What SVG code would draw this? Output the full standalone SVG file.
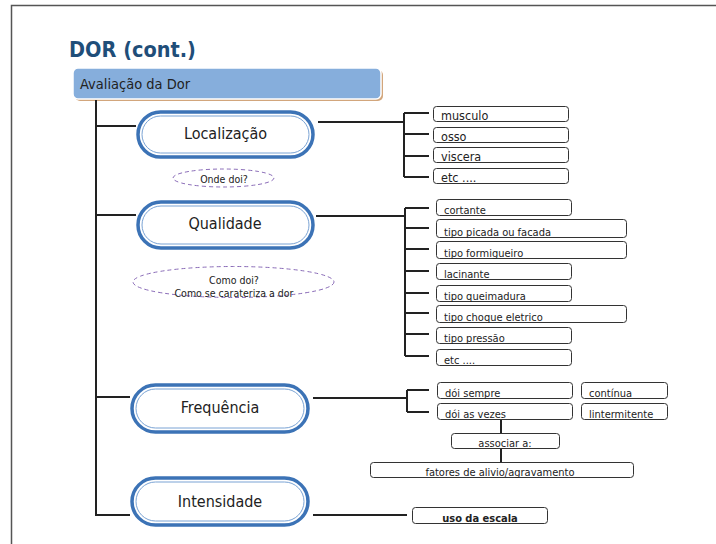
<svg xmlns="http://www.w3.org/2000/svg" width="716" height="544" viewBox="0 0 716 544">
<style>
text{font-family:'DejaVu Sans Condensed','DejaVu Sans',sans-serif;font-stretch:condensed;fill:#222}
.pill{fill:#fff;stroke:#3c73b6;stroke-width:3.5}
.pilli{fill:none;stroke:#7aa3d4;stroke-width:1}
.pt{font-size:16px;text-anchor:middle}
.bx{fill:#fff;stroke:#333;stroke-width:1}
.bt{font-size:11px}
.bl{font-size:12.5px}
.dash{fill:#fff;stroke:#8a6cb8;stroke-width:1;stroke-dasharray:4 3}
.dt{font-size:10.5px;text-anchor:middle}
.ln{fill:none;stroke:#222;stroke-width:2}
</style>
<rect width="716" height="544" fill="#fff"/>
<path d="M11.5 544V5.5H716" fill="none" stroke="#555" stroke-width="1.5"/>
<text x="69" y="57" style="font-size:21.5px;font-weight:bold;fill:#1f4e79">DOR (cont.)</text>
<g id="avaliacao">
<rect x="75" y="70" width="308" height="31" rx="5" fill="#d2a67c"/>
<rect x="73" y="68" width="308" height="31" rx="5" fill="#86aedc" stroke="#fff" stroke-width="1.5"/>
<text x="80" y="89" style="font-size:14.5px">Avaliação da Dor</text>
</g>
<g id="connectors" class="ln">
<path d="M96 100V515H130M96 126H136M96 215H136M96 397H130"/>
<path d="M318 122H404M404 113V177M404 113H429M404 134H429M404 156H429M404 177H429"/>
<path d="M316 216H405M405 208V356M405 208H429M405 228H429M405 249H429M405 271H429M405 293H429M405 313H429M405 334H429M405 356H429"/>
<path d="M313 398H407M407 390V412M407 390H429M407 412H429"/>
<path d="M501 419V462"/>
<path d="M313 515H407"/>
</g>
<g id="localizacao">
<rect class="pill" x="138" y="112" width="175" height="45" rx="22.5"/>
<rect class="pilli" x="142" y="116" width="167" height="37" rx="18.5"/>
<text class="pt" x="225.5" y="139">Localização</text>
</g>
<g id="onde-doi">
<ellipse class="dash" cx="223.5" cy="178" rx="50.5" ry="9"/>
<text class="dt" x="224" y="183">Onde doi?</text>
</g>
<g id="qualidade">
<rect class="pill" x="138" y="202" width="175" height="46" rx="23"/>
<rect class="pilli" x="142" y="206" width="167" height="38" rx="19"/>
<text class="pt" x="225" y="229">Qualidade</text>
</g>
<g id="como-doi">
<ellipse class="dash" cx="233.5" cy="282" rx="100.5" ry="15.5"/>
<text class="dt" x="234" y="284">Como doi?</text>
<text class="dt" x="234" y="297">Como se carateriza a dor</text>
</g>
<g id="frequencia">
<rect class="pill" x="132" y="385" width="176" height="47" rx="23.5"/>
<rect class="pilli" x="136" y="389" width="168" height="39" rx="19.5"/>
<text class="pt" x="220" y="413">Frequência</text>
</g>
<g id="intensidade">
<rect class="pill" x="132" y="478" width="176" height="47" rx="23.5"/>
<rect class="pilli" x="136" y="482" width="168" height="39" rx="19.5"/>
<text class="pt" x="220" y="507">Intensidade</text>
</g>
<g id="loc-musculo"><rect class="bx" x="433.5" y="106.5" width="135" height="15" rx="3"/><text class="bl" x="441" y="120">musculo</text></g>
<g id="loc-osso"><rect class="bx" x="433.5" y="127.5" width="135" height="15" rx="3"/><text class="bl" x="441" y="141">osso</text></g>
<g id="loc-viscera"><rect class="bx" x="433.5" y="147.5" width="135" height="15" rx="3"/><text class="bl" x="441" y="161">viscera</text></g>
<g id="loc-etc"><rect class="bx" x="433.5" y="168.5" width="135" height="15" rx="3"/><text class="bl" x="441" y="182">etc ....</text></g>
<g id="q-cortante"><rect class="bx" x="436.5" y="199.5" width="135" height="16" rx="3"/><text class="bt" x="444" y="214">cortante</text></g>
<g id="q-picada"><rect class="bx" x="436.5" y="219.5" width="190" height="18" rx="3"/><text class="bt" x="444" y="236">tipo picada ou facada</text></g>
<g id="q-formigueiro"><rect class="bx" x="436.5" y="241.5" width="190" height="17" rx="3"/><text class="bt" x="444" y="257">tipo formigueiro</text></g>
<g id="q-lacinante"><rect class="bx" x="436.5" y="263.5" width="135" height="16" rx="3"/><text class="bt" x="444" y="278">lacinante</text></g>
<g id="q-queimadura"><rect class="bx" x="436.5" y="285.5" width="135" height="16" rx="3"/><text class="bt" x="444" y="300">tipo queimadura</text></g>
<g id="q-choque"><rect class="bx" x="436.5" y="305.5" width="190" height="17" rx="3"/><text class="bt" x="444" y="321">tipo choque eletrico</text></g>
<g id="q-pressao"><rect class="bx" x="436.5" y="327.5" width="135" height="16" rx="3"/><text class="bt" x="444" y="342">tipo pressão</text></g>
<g id="q-etc"><rect class="bx" x="436.5" y="349.5" width="135" height="16" rx="3"/><text class="bt" x="444" y="364">etc ....</text></g>
<g id="f-sempre"><rect class="bx" x="437.5" y="382.5" width="135" height="16" rx="3"/><text class="bt" x="445" y="397">dói sempre</text></g>
<g id="f-vezes"><rect class="bx" x="437.5" y="403.5" width="135" height="16" rx="3"/><text class="bt" x="445" y="418">dói as vezes</text></g>
<g id="f-continua"><rect class="bx" x="581.5" y="382.5" width="86" height="16" rx="3"/><text class="bt" x="589" y="397">contínua</text></g>
<g id="f-intermitente"><rect class="bx" x="581.5" y="403.5" width="86" height="16" rx="3"/><text class="bt" x="589" y="418">lintermitente</text></g>
<g id="associar"><rect class="bx" x="451.5" y="433.5" width="108" height="15" rx="3"/><text class="bt" x="505" y="447" text-anchor="middle">associar a:</text></g>
<g id="fatores"><rect class="bx" x="370.5" y="462.5" width="263" height="15" rx="3"/><text class="bt" x="500" y="476" text-anchor="middle">fatores de alivio/agravamento</text></g>
<g id="escala"><rect class="bx" x="412.5" y="507.5" width="135" height="16" rx="3"/><text class="bt" x="480" y="522" text-anchor="middle" font-weight="bold">uso da escala</text></g>
</svg>
